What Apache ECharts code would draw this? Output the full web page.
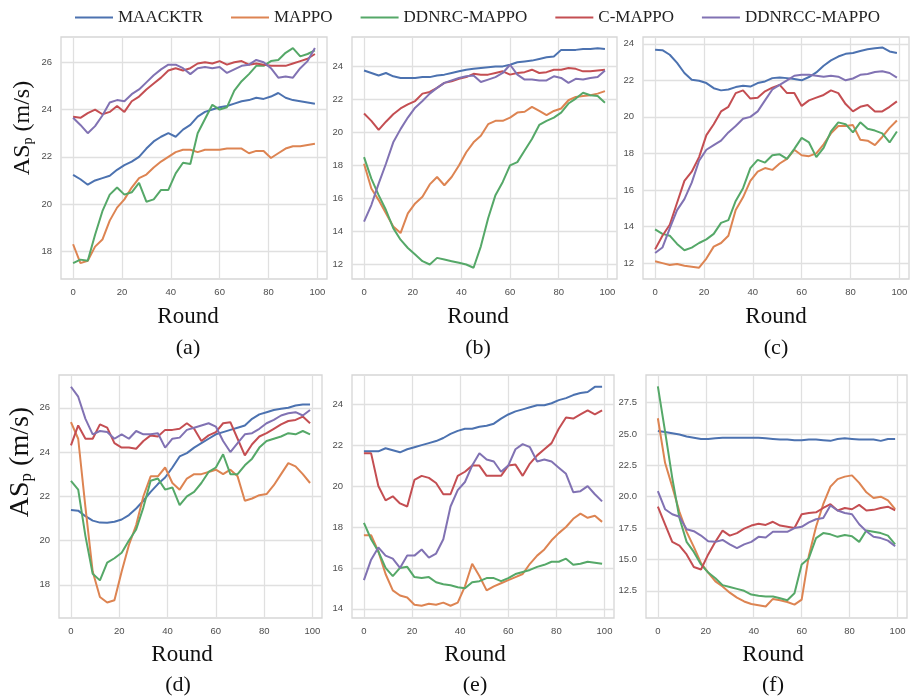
<!DOCTYPE html>
<html>
<head>
<meta charset="utf-8">
<script src="https://cdn.jsdelivr.net/npm/echarts@6/dist/echarts.min.js"></script>
<style>
  html, body { margin: 0; padding: 0; background: #fff; }
  #chart { width: 913px; height: 699px; }
</style>
</head>
<body>
<div id="chart"></div>
<script>
const rounds = [0, 3, 6, 9, 12, 15, 18, 21, 24, 27, 30, 33, 36, 39, 42, 45, 48, 51, 54, 57, 60, 63, 66, 69, 72, 75, 78, 81, 84, 87, 90, 93, 96, 99]
const seriesNames = ['MAACKTR', 'MAPPO', 'DDNRC-MAPPO', 'C-MAPPO', 'DDNRCC-MAPPO']
const panelLabels = ['(a)', '(b)', '(c)', '(d)', '(e)', '(f)']
const xTicks = [0, 20, 40, 60, 80, 100]

// (a)
const aMAACKTR = [21.24, 21.05, 20.82, 21.0, 21.1, 21.2, 21.45, 21.65, 21.8, 22.0, 22.35, 22.65, 22.85, 23.0, 22.85, 23.15, 23.35, 23.7, 23.9, 24.0, 24.1, 24.15, 24.25, 24.35, 24.4, 24.5, 24.45, 24.55, 24.7, 24.5, 24.4, 24.35, 24.3, 24.25]
const aMAPPO = [18.3, 17.5, 17.6, 18.2, 18.5, 19.3, 19.85, 20.2, 20.7, 21.1, 21.25, 21.55, 21.8, 22.0, 22.2, 22.3, 22.3, 22.2, 22.3, 22.3, 22.3, 22.35, 22.35, 22.35, 22.15, 22.25, 22.25, 21.95, 22.15, 22.35, 22.45, 22.45, 22.5, 22.55]
const aDDNRC = [17.5, 17.65, 17.6, 18.7, 19.7, 20.4, 20.7, 20.4, 20.5, 20.9, 20.1, 20.2, 20.6, 20.6, 21.3, 21.75, 21.7, 23.0, 23.6, 24.2, 24.0, 24.1, 24.8, 25.2, 25.5, 25.85, 25.85, 26.05, 26.1, 26.4, 26.6, 26.25, 26.35, 26.5]
const aCMAPPO = [23.7, 23.65, 23.85, 24.0, 23.8, 23.9, 24.15, 23.9, 24.35, 24.55, 24.85, 25.1, 25.35, 25.65, 25.75, 25.65, 25.75, 25.95, 26.0, 25.95, 26.05, 25.9, 26.0, 26.05, 25.9, 25.95, 25.9, 25.85, 25.85, 25.85, 25.95, 26.05, 26.15, 26.35]
const aDDNRCC = [23.65, 23.35, 23.0, 23.3, 23.75, 24.3, 24.4, 24.35, 24.65, 24.85, 25.15, 25.45, 25.7, 25.9, 25.9, 25.75, 25.5, 25.75, 25.8, 25.75, 25.8, 25.55, 25.7, 25.85, 25.9, 26.1, 26.0, 25.75, 25.35, 25.4, 25.35, 25.75, 26.05, 26.6]

// (b)
const bMAACKTR = [23.75, 23.6, 23.45, 23.6, 23.4, 23.3, 23.3, 23.3, 23.35, 23.35, 23.45, 23.5, 23.6, 23.7, 23.8, 23.85, 23.9, 23.95, 24.0, 24.0, 24.1, 24.25, 24.3, 24.35, 24.45, 24.55, 24.6, 25.0, 25.0, 25.0, 25.05, 25.05, 25.1, 25.05]
const bMAPPO = [18.1, 16.6, 15.9, 15.1, 14.3, 13.9, 15.1, 15.7, 16.1, 16.85, 17.3, 16.8, 17.3, 18.0, 18.8, 19.4, 19.8, 20.5, 20.7, 20.7, 20.9, 21.2, 21.25, 21.55, 21.3, 21.05, 21.3, 21.45, 21.95, 22.15, 22.2, 22.25, 22.35, 22.5]
const bDDNRC = [18.5, 17.2, 16.2, 15.3, 14.2, 13.5, 13.0, 12.6, 12.2, 12.0, 12.4, 12.3, 12.2, 12.1, 12.0, 11.8, 13.1, 14.8, 16.2, 17.0, 18.0, 18.2, 18.9, 19.6, 20.45, 20.7, 20.9, 21.2, 21.75, 22.05, 22.4, 22.25, 22.2, 21.8]
const bCMAPPO = [21.15, 20.7, 20.15, 20.65, 21.1, 21.45, 21.7, 21.9, 22.35, 22.45, 22.7, 23.0, 23.1, 23.25, 23.35, 23.55, 23.5, 23.5, 23.6, 23.7, 23.5, 23.6, 23.65, 23.8, 23.6, 23.65, 23.8, 23.8, 23.9, 23.85, 23.7, 23.7, 23.75, 23.8]
const bDDNRCC = [14.6, 15.6, 16.9, 18.1, 19.4, 20.2, 20.9, 21.5, 21.9, 22.35, 22.7, 23.0, 23.15, 23.3, 23.4, 23.45, 23.05, 23.2, 23.35, 23.6, 24.1, 23.5, 23.2, 23.2, 23.15, 23.15, 23.4, 23.3, 23.0, 23.25, 23.2, 23.3, 23.35, 23.75]

// (c)
const cMAACKTR = [23.67, 23.65, 23.4, 22.95, 22.4, 22.03, 21.98, 21.85, 21.57, 21.45, 21.5, 21.63, 21.7, 21.66, 21.85, 21.94, 22.12, 22.16, 22.12, 22.07, 22.0, 22.18, 22.43, 22.8, 23.09, 23.3, 23.45, 23.49, 23.6, 23.7, 23.76, 23.8, 23.58, 23.5]
const cMAPPO = [12.1, 12.0, 11.9, 11.95, 11.85, 11.8, 11.75, 12.25, 12.9, 13.1, 13.5, 14.9, 15.6, 16.5, 17.0, 17.2, 17.1, 17.45, 17.7, 18.2, 17.9, 17.85, 18.0, 18.5, 19.1, 19.5, 19.5, 19.55, 18.75, 18.7, 18.45, 18.9, 19.4, 19.8]
const cDDNRC = [13.85, 13.6, 13.5, 13.05, 12.7, 12.85, 13.1, 13.3, 13.6, 14.2, 14.35, 15.4, 16.1, 17.2, 17.65, 17.5, 17.9, 17.95, 17.7, 18.25, 18.85, 18.6, 17.8, 18.3, 19.2, 19.7, 19.6, 19.15, 19.7, 19.35, 19.25, 19.1, 18.6, 19.2]
const cCMAPPO = [12.75, 13.5, 14.1, 15.3, 16.5, 17.0, 17.8, 19.0, 19.6, 20.3, 20.55, 21.3, 21.45, 21.0, 21.05, 21.4, 21.6, 21.75, 21.3, 21.3, 20.6, 20.9, 21.05, 21.2, 21.45, 21.3, 20.7, 20.3, 20.55, 20.65, 20.3, 20.3, 20.55, 20.85]
const cDDNRCC = [12.55, 12.85, 13.9, 14.9, 15.5, 16.4, 17.6, 18.2, 18.45, 18.7, 19.15, 19.5, 19.9, 20.0, 20.3, 20.9, 21.5, 21.75, 22.0, 22.25, 22.3, 22.3, 22.25, 22.2, 22.25, 22.2, 22.0, 22.1, 22.3, 22.35, 22.45, 22.5, 22.4, 22.15]

// (d)
const dMAACKTR = [21.38, 21.35, 21.1, 20.9, 20.81, 20.8, 20.85, 20.95, 21.15, 21.45, 21.8, 22.2, 22.55, 22.85, 23.3, 23.8, 23.95, 24.2, 24.4, 24.6, 24.8, 24.9, 25.0, 25.1, 25.2, 25.5, 25.7, 25.8, 25.9, 25.95, 26.0, 26.1, 26.15, 26.15]
const dMAPPO = [25.35, 24.6, 21.5, 18.6, 17.45, 17.2, 17.3, 18.6, 19.8, 20.7, 22.0, 22.9, 22.9, 23.3, 22.6, 22.3, 22.8, 23.0, 23.0, 23.1, 23.2, 23.0, 23.2, 22.9, 21.8, 21.9, 22.05, 22.1, 22.5, 23.0, 23.5, 23.35, 23.0, 22.6]
const dDDNRC = [22.7, 22.3, 20.2, 18.5, 18.2, 19.0, 19.2, 19.45, 20.0, 20.5, 21.5, 22.7, 22.8, 22.3, 22.4, 21.6, 22.0, 22.2, 22.6, 23.1, 23.3, 23.9, 23.0, 23.0, 23.4, 23.7, 24.2, 24.5, 24.6, 24.7, 24.85, 24.8, 24.95, 24.8]
const dCMAPPO = [24.3, 25.2, 24.6, 24.6, 25.25, 25.1, 24.4, 24.2, 24.2, 24.15, 24.5, 24.75, 24.7, 25.0, 25.0, 25.05, 25.3, 25.05, 24.5, 24.75, 24.9, 25.3, 25.35, 24.6, 23.85, 24.35, 24.7, 24.85, 25.05, 25.25, 25.4, 25.45, 25.6, 25.3]
const dDDNRCC = [26.95, 26.5, 25.5, 24.8, 24.95, 24.9, 24.6, 24.8, 24.6, 24.95, 24.8, 24.8, 24.85, 24.2, 24.6, 24.65, 25.0, 25.1, 25.2, 25.3, 25.15, 24.5, 24.0, 24.4, 24.8, 24.85, 25.05, 25.3, 25.45, 25.65, 25.75, 25.8, 25.65, 25.9]

// (e)
const eMAACKTR = [21.7, 21.7, 21.7, 21.85, 21.75, 21.65, 21.8, 21.9, 22.0, 22.1, 22.2, 22.35, 22.55, 22.7, 22.8, 22.8, 22.9, 22.95, 23.05, 23.3, 23.5, 23.65, 23.75, 23.85, 23.95, 23.95, 24.05, 24.2, 24.3, 24.45, 24.55, 24.6, 24.85, 24.85]
const eMAPPO = [17.6, 17.6, 16.8, 15.7, 14.9, 14.65, 14.55, 14.2, 14.15, 14.25, 14.2, 14.3, 14.15, 14.3, 15.1, 16.2, 15.6, 14.9, 15.1, 15.25, 15.4, 15.55, 15.7, 16.2, 16.6, 16.9, 17.35, 17.7, 18.0, 18.4, 18.65, 18.45, 18.55, 18.25]
const eDDNRC = [18.2, 17.4, 16.8, 16.0, 15.6, 16.0, 16.05, 15.55, 15.5, 15.55, 15.3, 15.2, 15.15, 15.05, 15.0, 15.3, 15.35, 15.5, 15.5, 15.35, 15.5, 15.7, 15.8, 15.9, 16.05, 16.15, 16.3, 16.3, 16.45, 16.15, 16.2, 16.3, 16.25, 16.2]
const eCMAPPO = [21.6, 21.6, 20.0, 19.3, 19.5, 19.15, 19.0, 20.3, 20.5, 20.4, 20.15, 19.6, 19.6, 20.5, 20.7, 21.0, 21.0, 20.5, 20.5, 20.5, 21.0, 21.05, 20.5, 21.1, 21.5, 21.8, 22.1, 22.8, 23.35, 23.3, 23.5, 23.7, 23.5, 23.7]
const eDDNRCC = [15.4, 16.4, 17.0, 16.6, 16.45, 16.0, 16.6, 16.6, 16.9, 16.5, 16.7, 17.4, 19.0, 19.8, 20.2, 21.0, 21.6, 21.3, 21.2, 20.7, 21.0, 21.8, 22.05, 21.9, 21.2, 21.3, 21.2, 20.9, 20.6, 19.7, 19.75, 20.0, 19.6, 19.25]

// (f)
const fMAACKTR = [25.24, 25.15, 25.05, 24.95, 24.8, 24.7, 24.6, 24.6, 24.65, 24.7, 24.7, 24.7, 24.7, 24.7, 24.7, 24.65, 24.6, 24.55, 24.55, 24.5, 24.5, 24.55, 24.55, 24.5, 24.45, 24.6, 24.65, 24.6, 24.55, 24.55, 24.55, 24.45, 24.6, 24.6]
const fMAPPO = [26.25, 22.7, 20.8, 18.8, 17.2, 16.0, 14.7, 13.95, 13.25, 12.85, 12.35, 11.95, 11.65, 11.45, 11.35, 11.25, 11.85, 11.75, 11.6, 11.4, 11.8, 15.3, 17.6, 19.4, 20.8, 21.4, 21.6, 21.7, 21.1, 20.35, 19.9, 20.0, 19.7, 19.0]
const fDDNRC = [28.8, 25.2, 21.5, 18.3, 16.4, 15.6, 14.6, 13.95, 13.5, 12.95, 12.8, 12.65, 12.5, 12.2, 12.1, 12.05, 12.05, 11.9, 11.75, 12.3, 14.6, 15.1, 16.7, 17.1, 17.0, 16.8, 16.95, 16.85, 16.4, 17.3, 17.2, 17.1, 16.9, 16.2]
const fCMAPPO = [19.2, 17.8, 16.4, 16.1, 15.4, 14.4, 14.2, 15.4, 16.4, 17.3, 16.9, 17.1, 17.45, 17.7, 17.85, 17.75, 18.0, 17.7, 17.6, 17.5, 18.6, 18.7, 18.75, 19.1, 19.4, 18.9, 19.1, 19.0, 19.35, 18.9, 18.95, 19.1, 19.2, 18.9]
const fDDNRCC = [20.45, 19.0, 18.6, 18.4, 17.4, 17.25, 16.9, 16.45, 16.4, 16.55, 16.2, 15.9, 16.2, 16.4, 16.8, 16.75, 17.2, 17.2, 17.2, 17.5, 17.6, 17.95, 18.2, 18.3, 19.3, 18.9, 18.7, 18.6, 17.8, 17.25, 16.8, 16.7, 16.5, 16.05]

const yTicksA = [18, 20, 22, 24, 26]
const yTicksB = [12, 14, 16, 18, 20, 22, 24]
const yTicksC = [12, 14, 16, 18, 20, 22, 24]
const yTicksD = [18, 20, 22, 24, 26]
const yTicksE = [14, 16, 18, 20, 22, 24]
const yTicksF = [12.5, 15, 17.5, 20, 22.5, 25, 27.5]

const COLORS = ['#4C72B0', '#DD8452', '#55A868', '#C44E52', '#8172B3']
const SERIF = '"Liberation Serif", "Times New Roman", serif'
const SANS = '"Liberation Sans", Arial, sans-serif'

const panels = [
  { values: [aMAACKTR, aMAPPO, aDDNRC, aCMAPPO, aDDNRCC], ticks: yTicksA, range: [16.83, 27.07], box: [61, 37, 266, 242], round: [188, 317], tag: [188, 348] },
  { values: [bMAACKTR, bMAPPO, bDDNRC, bCMAPPO, bDDNRCC], ticks: yTicksB, range: [11.12, 25.78], box: [352, 37, 265, 242], round: [478, 317], tag: [478, 348] },
  { values: [cMAACKTR, cMAPPO, cDDNRC, cCMAPPO, cDDNRCC], ticks: yTicksC, range: [11.13, 24.37], box: [643, 37, 266, 242], round: [776, 317], tag: [776, 348] },
  { values: [dMAACKTR, dMAPPO, dDDNRC, dCMAPPO, dDDNRCC], ticks: yTicksD, range: [16.5, 27.48], box: [59, 375, 263, 243], round: [182, 655], tag: [178, 685] },
  { values: [eMAACKTR, eMAPPO, eDDNRC, eCMAPPO, eDDNRCC], ticks: yTicksE, range: [13.55, 25.43], box: [352, 375, 262, 243], round: [475, 655], tag: [475, 685] },
  { values: [fMAACKTR, fMAPPO, fDDNRC, fCMAPPO, fDDNRCC], ticks: yTicksF, range: [10.33, 29.7], box: [646, 375, 261, 243], round: [773, 655], tag: [773, 685], decimals: 1 },
]

const gridLine = { lineStyle: { color: '#e0e0e0', width: 1.3 } }
const tickFont = { color: '#4d4d4d', fontFamily: SANS, fontSize: 9.5 }

const option = {
  animation: false,
  backgroundColor: '#fff',
  color: COLORS,
  legend: {
    data: seriesNames,
    left: 70, top: 4,
    icon: 'rect', itemWidth: 38, itemHeight: 2, itemGap: 28,
    selectedMode: false,
    textStyle: { fontFamily: SERIF, fontSize: 17, color: '#222' },
  },
  grid: panels.map((p) => ({
    left: p.box[0], top: p.box[1], width: p.box[2], height: p.box[3],
    show: true, borderColor: '#d6d6d6', borderWidth: 1.3, backgroundColor: '#fff',
    containLabel: false, outerBoundsMode: 'none',
  })),
  xAxis: panels.map((p, i) => ({
    type: 'value', gridIndex: i, min: -4.95, max: 103.95,
    axisLine: { show: false },
    axisTick: { show: false, customValues: xTicks },
    axisLabel: { ...tickFont, margin: 8, customValues: xTicks, formatter: (v) => String(v) },
    splitLine: gridLine,
  })),
  yAxis: panels.map((p, i) => ({
    type: 'value', gridIndex: i, min: p.range[0], max: p.range[1],
    axisLine: { show: false },
    axisTick: { show: false, customValues: p.ticks },
    axisLabel: { ...tickFont, margin: 9, customValues: p.ticks, formatter: (v) => p.decimals ? v.toFixed(p.decimals) : String(v) },
    splitLine: gridLine,
  })),
  series: panels.flatMap((p, i) => p.values.map((vals, s) => ({
    type: 'line', name: seriesNames[s],
    xAxisIndex: i, yAxisIndex: i,
    data: rounds.map((r, k) => [r, vals[k]]),
    symbol: 'none', showSymbol: false,
    lineStyle: { width: 2, color: COLORS[s] },
    itemStyle: { color: COLORS[s] },
  }))),
  graphic: [
    ...panels.map((p) => ({ type: 'text', x: p.round[0], y: p.round[1], style: { text: 'Round', font: `23px ${SERIF}`, fill: '#111', align: 'center', verticalAlign: 'middle' } })),
    ...panels.map((p, i) => ({ type: 'text', x: p.tag[0], y: p.tag[1], style: { text: panelLabels[i], font: `22px ${SERIF}`, fill: '#111', align: 'center', verticalAlign: 'middle' } })),
    ...[[23, 128, 24], [21, 462, 28]].map(([x, y, size]) => ({
      type: 'text', x, y, rotation: Math.PI / 2,
      style: {
        text: 'AS{p|p} (m/s)', fontFamily: SERIF, fontSize: size, fill: '#111', align: 'center', verticalAlign: 'middle',
        rich: { p: { fontFamily: SERIF, fontSize: Math.round(size * 0.6), fill: '#111', verticalAlign: 'bottom', lineHeight: size } },
      },
    })),
  ],
}

const chart = echarts.init(document.getElementById('chart'), null, { renderer: 'canvas' })
chart.setOption(option)
</script>
</body>
</html>
